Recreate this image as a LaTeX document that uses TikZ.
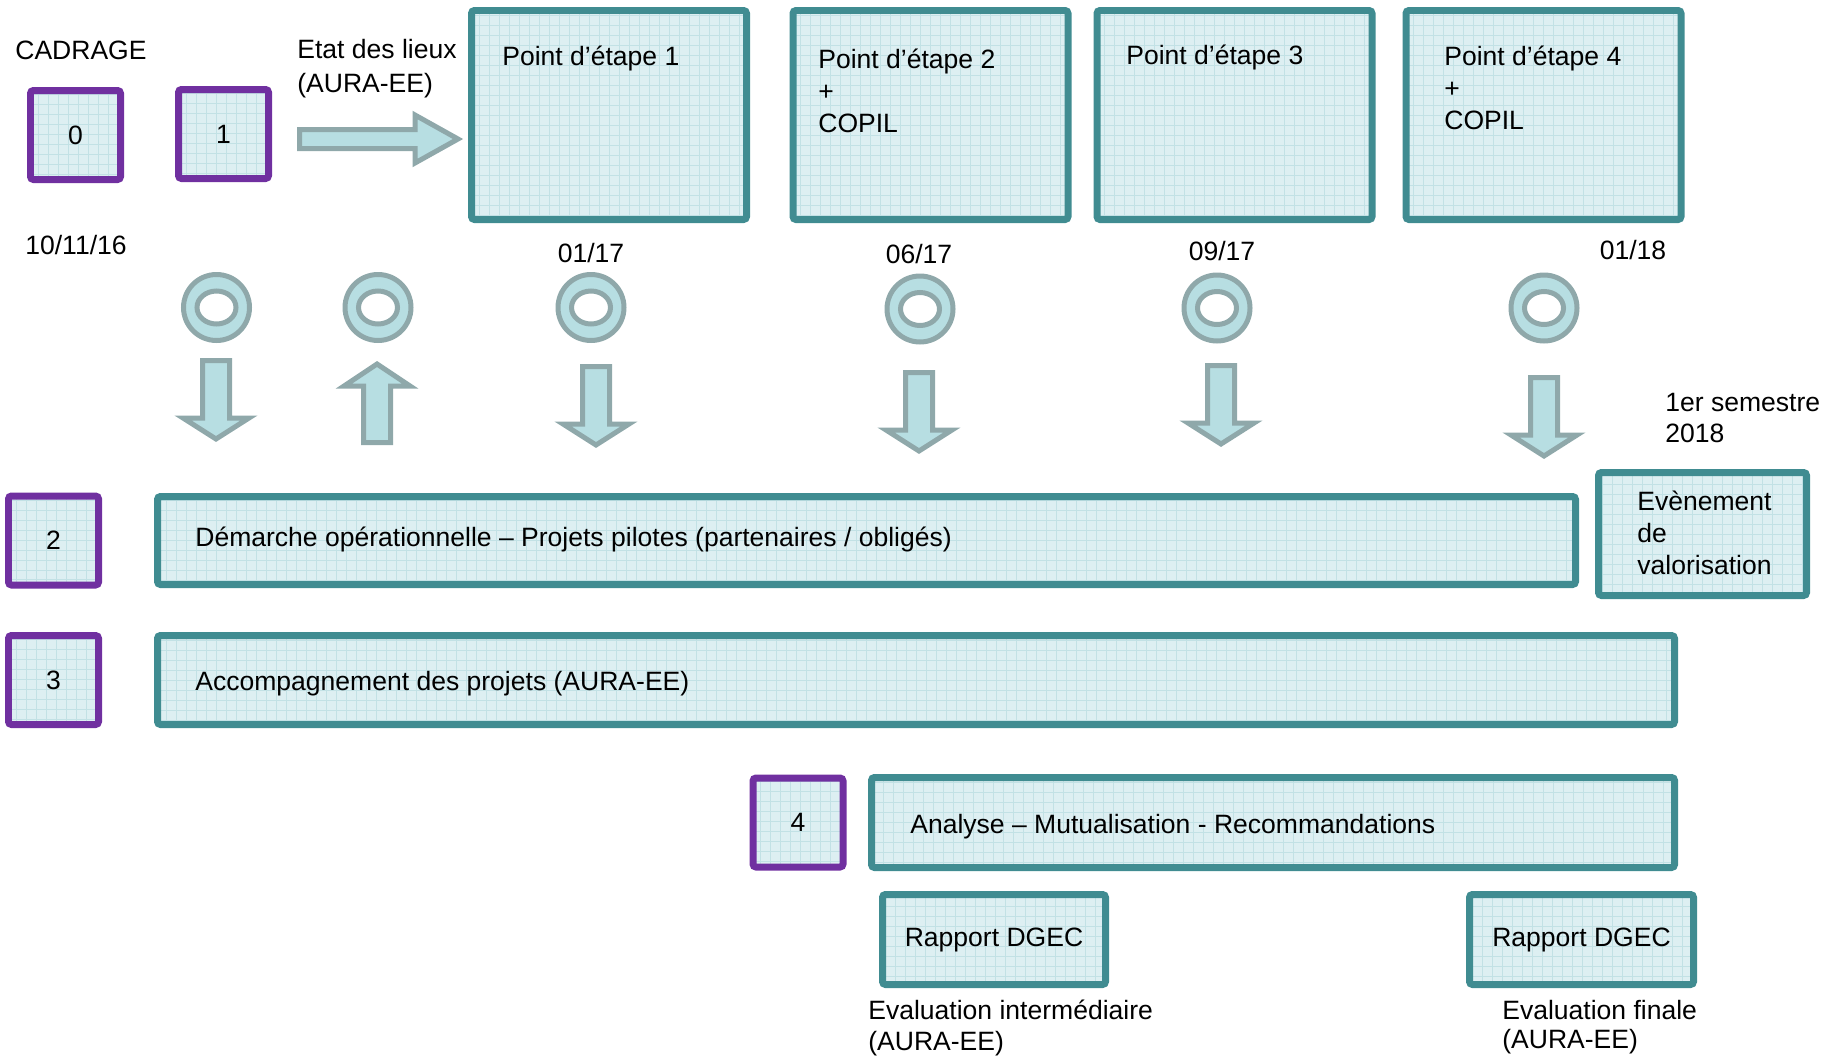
\documentclass[tikz,border=0pt]{standalone}
\usepackage{fontspec}
\setmainfont{Liberation Sans}
\usetikzlibrary{positioning}
\definecolor{tealc}{HTML}{408C91}
\definecolor{purplec}{HTML}{7030A0}
\definecolor{boxfill}{HTML}{DDEFF2}
\definecolor{gridc}{HTML}{C2E1E5}
\definecolor{ringfill}{HTML}{B7DEE2}
\definecolor{ringc}{HTML}{8FA8AA}
\newcommand{\pxu}{0.02cm}
\newcommand{\fs}[1]{\fontsize{15.1}{#1}\selectfont}
\begin{document}
\begin{tikzpicture}[x=0.02cm, y=-0.02cm, font=\fs{18},
		gridbox/.style={rectangle, rounded corners=0.06cm, line width=0.14cm, fill=boxfill, inner sep=0pt,
			path picture={\draw[gridc, line width=0.3pt] (path picture bounding box.south west) grid[step=0.2cm] (path picture bounding box.north east);}},
		tealbox/.style={gridbox, draw=tealc},
		numbox/.style={gridbox, draw=purplec, minimum width=90*\pxu, minimum height=89*\pxu},
		txt/.style={anchor=base west, inner sep=0pt, align=left},
		date/.style={anchor=base, inner sep=0pt},
		shapeline/.style={draw=ringc, fill=ringfill, line width=0.1cm},
		donut/.style={circle, shapeline, inner sep=0pt, minimum size=66*\pxu,
			path picture={\draw[ringc, line width=0.1cm, fill=white] (path picture bounding box.center) ellipse [x radius=0.39cm, y radius=0.33cm];}},
		downarr/.pic={\draw[shapeline] (-13.5,2.5) -- (13.5,2.5) -- (13.5,60) -- (33,60) -- (0,81) -- (-33,60) -- (-13.5,60) -- cycle;},
		uparr/.pic={\draw[shapeline] (-13.5,-2.5) -- (13.5,-2.5) -- (13.5,-59) -- (33,-59) -- (0,-81) -- (-33,-59) -- (-13.5,-59) -- cycle;},
		rightarr/.pic={\draw[shapeline] (2.5,-9.5) -- (118,-9.5) -- (118,-24) -- (161,0) -- (118,24) -- (118,9.5) -- (2.5,9.5) -- cycle;}]
	\useasboundingbox (0,0) rectangle (1839,1058);

	% cadrage
	\node[txt] (cad) at (15,59) {CADRAGE};
	\node[numbox] (b0) at (75.5,135) {0};
	\node[numbox] (b1) at (223.5,134) {1};
	\node[txt] (d0) at (25,254) {10/11/16};
	\node[txt, font=\fs{18.8}] (edl) at (297,92) {Etat des lieux\\(AURA-EE)};
	\pic (fl) at (297,139) {rightarr};

	% points d'etape
	\node[tealbox, minimum width=275*\pxu, minimum height=209*\pxu] (p1) at (609,115) {};
	\node[tealbox, minimum width=275*\pxu, minimum height=209*\pxu] (p2) at (930.5,115) {};
	\node[tealbox, minimum width=275*\pxu, minimum height=209*\pxu] (p3) at (1234.5,115) {};
	\node[tealbox, minimum width=275*\pxu, minimum height=209*\pxu] (p4) at (1543.5,115) {};
	\node[txt] (tp1) at (502,65) {Point d’étape 1};
	\node[txt, font=\fs{18.2}] (tp2) at (818,132) {Point d’étape 2\\+\\COPIL};
	\node[txt] (tp3) at (1126,64) {Point d’étape 3};
	\node[txt, font=\fs{18.2}] (tp4) at (1444,129) {Point d’étape 4\\+\\COPIL};

	\node[date] (d1) at (591,262) {01/17};
	\node[date] (d2) at (919,263) {06/17};
	\node[date] (d3) at (1222,260) {09/17};
	\node[date] (d4) at (1633,259) {01/18};

	% jalons
	\node[donut] (c1) at (216.5,307.5) {};
	\node[donut] (c2) at (378,307.5) {};
	\node[donut] (c3) at (591,307.5) {};
	\node[donut] (c4) at (920,309) {};
	\node[donut] (c5) at (1217,308) {};
	\node[donut] (c6) at (1544,308) {};
	\pic (a1) at (216,358) {downarr};
	\pic (a2) at (377,445) {uparr};
	\pic (a3) at (596,364) {downarr};
	\pic (a4) at (919,370) {downarr};
	\pic (a5) at (1221,363) {downarr};
	\pic (a6) at (1544,375) {downarr};

	% ligne 2
	\node[numbox] (b2) at (53.5,540.5) {2};
	\node[tealbox, minimum width=1418*\pxu, minimum height=88*\pxu] (r2) at (866.5,540.5) {};
	\node[txt] (t2) at (195,546) {Démarche opérationnelle – Projets pilotes (partenaires / obligés)};
	\node[txt, font=\fs{17.1}] (sem) at (1665,442) {1er semestre\\2018};
	\node[tealbox, minimum width=208*\pxu, minimum height=123*\pxu] (ev) at (1702.5,534) {};
	\node[txt, font=\fs{18.2}] (tev) at (1637,574) {Evènement\\de\\valorisation};

	% ligne 3
	\node[numbox] (b3) at (53.5,680) {3};
	\node[tealbox, minimum width=1517*\pxu, minimum height=89*\pxu] (r3) at (916,680) {};
	\node[txt] (t3) at (195,690) {Accompagnement des projets (AURA-EE)};

	% ligne 4
	\node[numbox] (b4) at (798,822.5) {4};
	\node[tealbox, minimum width=803*\pxu, minimum height=90*\pxu] (r4) at (1273,822.5) {};
	\node[txt] (t4) at (910,833) {Analyse – Mutualisation - Recommandations};

	% rapports
	\node[tealbox, minimum width=223*\pxu, minimum height=90*\pxu] (g1) at (994,939.5) {Rapport DGEC};
	\node[tealbox, minimum width=224*\pxu, minimum height=90*\pxu] (g2) at (1581.5,939.5) {Rapport DGEC};
	\node[txt, font=\fs{17.1}] (e1) at (868,1050) {Evaluation intermédiaire\\(AURA-EE)};
	\node[txt, font=\fs{16.5}] (e2) at (1502,1048) {Evaluation finale\\(AURA-EE)};
\end{tikzpicture}
\end{document}
